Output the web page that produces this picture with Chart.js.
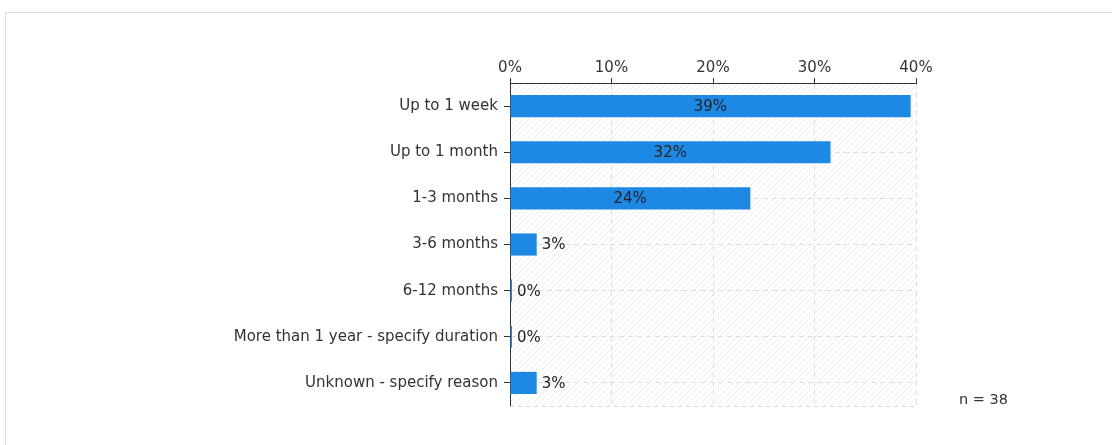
<!DOCTYPE html>
<html>
<head>
<meta charset="utf-8">
<script src="https://cdn.jsdelivr.net/npm/chart.js@4/dist/chart.umd.min.js"></script>
<style>
  html, body { margin: 0; padding: 0; background: #fff; }
  body { width: 1112px; height: 445px; position: relative; overflow: hidden; }
  #frame { position: absolute; left: 5px; top: 12px; width: 1200px; height: 600px; border: 1px solid #dcdcdc; box-sizing: border-box; }
  #wrap { position: absolute; left: 0; top: 0; width: 1112px; height: 445px; }
  #note { position: absolute; left: 959px; top: 391px; font: 14.5px "DejaVu Sans", sans-serif; color: #333; }
</style>
</head>
<body>
<div id="frame"></div>
<div id="wrap"><canvas id="c" width="1112" height="445"></canvas></div>
<div id="note">n = 38</div>
<script>
const categories = ["Up to 1 week", "Up to 1 month", "1-3 months", "3-6 months", "6-12 months", "More than 1 year - specify duration", "Unknown - specify reason"];
const percentages = [39.47, 31.58, 23.68, 2.63, 0, 0, 2.63];
const tickValues = [0, 10, 20, 30, 40];

const FONT = '"DejaVu Sans", sans-serif';
const TEXT = '#333';

function makeHatch(ctx) {
  const p = document.createElement('canvas');
  p.width = 6; p.height = 6;
  const g = p.getContext('2d');
  g.fillStyle = '#ffffff';
  g.fillRect(0, 0, 6, 6);
  g.strokeStyle = '#ececec';
  g.lineWidth = 1;
  g.beginPath();
  g.moveTo(0, 6); g.lineTo(6, 0);
  g.moveTo(-3, 3); g.lineTo(3, -3);
  g.moveTo(3, 9); g.lineTo(9, 3);
  g.stroke();
  return ctx.createPattern(p, 'repeat');
}

const bgPlugin = {
  id: 'bg',
  beforeDraw(chart) {
    const {ctx, chartArea: a} = chart;
    ctx.save();
    ctx.fillStyle = makeHatch(ctx);
    ctx.fillRect(a.left, a.top, a.right - a.left, a.bottom - a.top);
    ctx.restore();
  },
  afterDraw(chart) {
    const {ctx, chartArea: a} = chart;
    ctx.save();
    ctx.strokeStyle = '#d8d8d8';
    ctx.lineWidth = 1;
    ctx.setLineDash([4, 4]);
    ctx.beginPath();
    ctx.moveTo(a.left, Math.round(a.bottom) + 0.5);
    ctx.lineTo(a.right, Math.round(a.bottom) + 0.5);
    ctx.stroke();
    ctx.restore();
  }
};

const labelPlugin = {
  id: 'vlabels',
  afterDatasetsDraw(chart) {
    const {ctx} = chart;
    const meta = chart.getDatasetMeta(0);
    const xs = chart.scales.x;
    ctx.save();
    ctx.font = '15px ' + FONT;
    ctx.fillStyle = '#222';
    ctx.textBaseline = 'middle';
    meta.data.forEach((bar, i) => {
      const v = percentages[i];
      const txt = Math.round(v) + '%';
      if (v >= 10) {
        ctx.textAlign = 'center';
        ctx.fillText(txt, (xs.left + bar.x) / 2, bar.y + 1);
      } else {
        ctx.textAlign = 'left';
        ctx.fillText(txt, Math.max(bar.x, xs.left + 2) + 5, bar.y + 1);
      }
    });
    ctx.restore();
  }
};

new Chart(document.getElementById('c'), {
  type: 'bar',
  data: {
    labels: categories,
    datasets: [{
      data: percentages,
      backgroundColor: '#1e88e5',
      borderWidth: 0,
      borderSkipped: false,
      barPercentage: 0.96,
      categoryPercentage: 0.5,
      minBarLength: 2
    }]
  },
  options: {
    indexAxis: 'y',
    responsive: false,
    animation: false,
    events: [],
    layout: { padding: { left: 0, top: 0, right: 196, bottom: 39 } },
    plugins: { legend: { display: false }, tooltip: { enabled: false } },
    scales: {
      x: {
        position: 'top',
        min: 0, max: 40,
        afterBuildTicks(s) { s.ticks = tickValues.map(v => ({ value: v })); },
        afterFit(s) { s.height = 83; },
        ticks: {
          callback: v => v + '%',
          font: { family: FONT, size: 15 },
          color: TEXT,
          padding: 1
        },
        grid: { color: '#dedede', tickColor: '#333', tickLength: 5, drawTicks: true },
        border: { display: true, color: '#333', width: 1, dash: [5, 4] }
      },
      y: {
        afterFit(s) { s.width = 510; },
        ticks: { font: { family: FONT, size: 15 }, color: TEXT, padding: 6 },
        grid: { offset: false, color: '#dedede', tickColor: '#333', tickLength: 6 },
        border: { display: true, color: '#333', width: 1, dash: [5, 4] }
      }
    }
  },
  plugins: [bgPlugin, labelPlugin]
});
</script>
</body>
</html>
